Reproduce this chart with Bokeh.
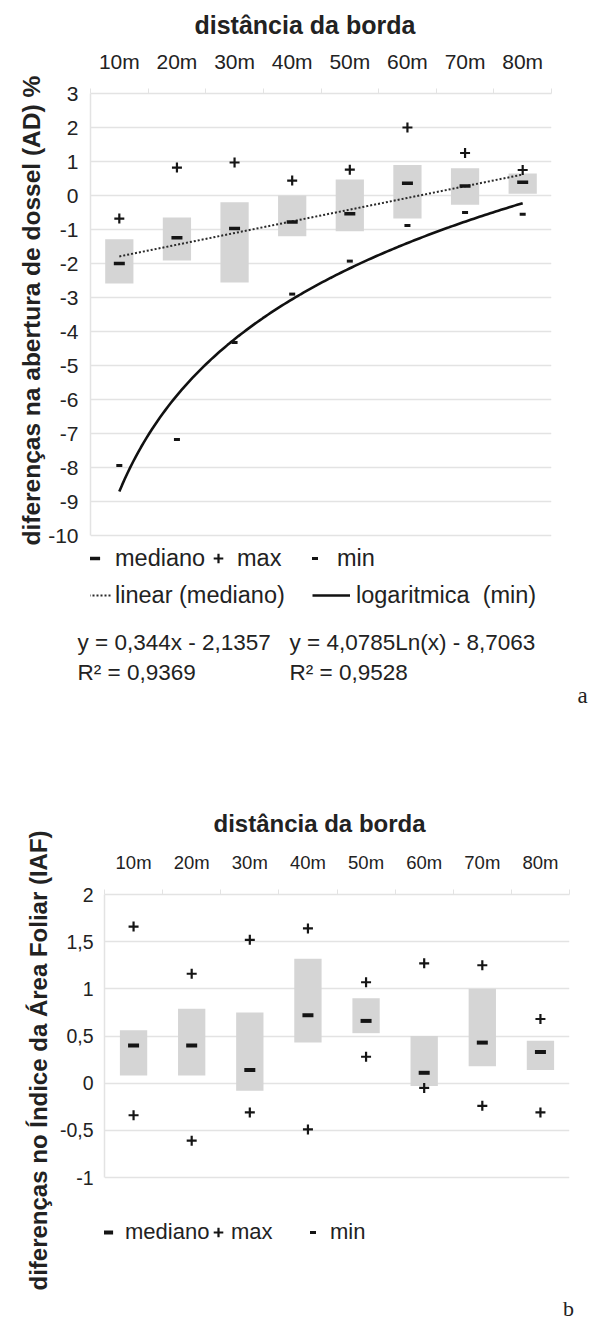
import numpy as np
from bokeh.plotting import figure
from bokeh.models import Range1d, FixedTicker, Label, Legend, LegendItem, Title
from bokeh.layouts import column
from bokeh.embed import file_html
from bokeh.resources import INLINE

# ---------------- data ----------------
categories = ["10m", "20m", "30m", "40m", "50m", "60m", "70m", "80m"]
positions = [1, 2, 3, 4, 5, 6, 7, 8]

# chart a: differences in canopy openness (AD) %
a_box_top = [-1.29, -0.65, -0.20, 0.00, 0.47, 0.90, 0.80, 0.65]
a_box_bottom = [-2.59, -1.91, -2.56, -1.20, -1.05, -0.68, -0.27, 0.05]
a_median = [-2.00, -1.24, -0.97, -0.78, -0.54, 0.36, 0.28, 0.39]
a_max = [-0.68, 0.82, 0.97, 0.44, 0.76, 2.00, 1.25, 0.75]
a_min = [-7.94, -7.18, -4.32, -2.90, -1.93, -0.88, -0.50, -0.55]
a_lin_slope, a_lin_intercept = 0.344, -2.1357
a_log_coef, a_log_intercept = 4.0785, -8.7063
a_eq_lin = "y = 0,344x - 2,1357"
a_r2_lin = "R² = 0,9369"
a_eq_log = "y = 4,0785Ln(x) - 8,7063"
a_r2_log = "R² = 0,9528"
a_y_ticks = [-10, -9, -8, -7, -6, -5, -4, -3, -2, -1, 0, 1, 2, 3]
a_y_labels = ["-10", "-9", "-8", "-7", "-6", "-5", "-4", "-3", "-2", "-1", "0", "1", "2", "3"]

# chart b: differences in leaf area index (IAF)
b_box_top = [0.56, 0.79, 0.75, 1.32, 0.90, 0.50, 1.00, 0.45]
b_box_bottom = [0.08, 0.08, -0.08, 0.43, 0.53, -0.03, 0.18, 0.14]
b_median = [0.40, 0.40, 0.14, 0.72, 0.66, 0.11, 0.43, 0.33]
b_max = [1.66, 1.16, 1.52, 1.64, 1.07, 1.27, 1.25, 0.68]
b_min = [-0.34, -0.61, -0.31, -0.49, 0.28, -0.05, -0.24, -0.31]
b_y_ticks = [-1, -0.5, 0, 0.5, 1, 1.5, 2]
b_y_labels = ["-1", "-0,5", "0", "0,5", "1", "1,5", "2"]

title_text = "distância da borda"
a_ylabel = "diferenças na abertura de dossel (AD) %"
b_ylabel = "diferenças no Índice da Área Foliar (IAF)"

# ---------------- style ----------------
FONT = "Liberation Sans"
SERIF = "Liberation Serif"
TXT = "#222222"
GRID = "#e3e3e3"
BOX = "#d5d5d5"
MARK = "#151515"
W = 592


def chart(fig_top, height, left, right, top, axis_bottom, frame_bottom, y_lo, y_hi,
          yticks, ylabels, cat_size, cat_standoff, tick_size, tick_standoff,
          title_size, title_offset, title_standoff,
          ylabel, ylabel_size, ylabel_bottom, ylabel_standoff):
    ppu = (axis_bottom - top) / (y_hi - y_lo)
    y_start = y_lo - (frame_bottom - axis_bottom) / ppu
    p = figure(width=W, height=height, x_range=Range1d(0.5, 8.5),
               y_range=Range1d(y_start, y_hi),
               output_backend="svg", toolbar_location=None, x_axis_location="above",
               min_border_left=left, min_border_right=W - right,
               min_border_top=top - fig_top,
               min_border_bottom=fig_top + height - frame_bottom)
    p.frame_align = False
    p.outline_line_color = None
    p.background_fill_color = "white"
    p.xgrid.visible = False
    p.ygrid.ticker = FixedTicker(ticks=yticks)
    p.ygrid.grid_line_color = GRID
    p.ygrid.grid_line_width = 1.5

    p.title.text = title_text
    p.title.align = "left"
    p.title.offset = title_offset
    p.title.text_font = FONT
    p.title.text_font_size = title_size
    p.title.text_font_style = "bold"
    p.title.text_color = TXT
    p.title.standoff = title_standoff

    xa = p.xaxis[0]
    xa.ticker = FixedTicker(ticks=positions, minor_ticks=[i + 0.5 for i in range(9)])
    xa.major_label_overrides = dict(zip(positions, categories))
    xa.major_tick_line_color = None
    xa.major_tick_out = 0
    xa.major_tick_in = 0
    xa.minor_tick_line_color = GRID
    xa.minor_tick_out = 5
    xa.minor_tick_in = 0
    xa.axis_line_color = GRID
    xa.axis_line_width = 1.5
    xa.major_label_standoff = cat_standoff
    xa.major_label_text_font = FONT
    xa.major_label_text_font_size = cat_size
    xa.major_label_text_color = TXT

    ya = p.yaxis[0]
    ya.ticker = FixedTicker(ticks=yticks, minor_ticks=[])
    ya.major_label_overrides = dict(zip(yticks, ylabels))
    ya.major_tick_line_color = None
    ya.major_tick_out = 0
    ya.major_tick_in = 0
    ya.bounds = (y_lo, y_hi)
    ya.axis_line_color = GRID
    ya.axis_line_width = 1.5
    ya.major_label_standoff = tick_standoff
    ya.major_label_text_font = FONT
    ya.major_label_text_font_size = tick_size
    ya.major_label_text_color = TXT

    p.add_layout(Title(text=ylabel, align="left", offset=frame_bottom - ylabel_bottom,
                       text_font=FONT, text_font_size=ylabel_size, text_font_style="bold",
                       text_color=TXT, standoff=ylabel_standoff), "left")
    return p


def text_fig(top, height):
    t = figure(width=W, height=height, x_range=Range1d(0, W), y_range=Range1d(top + height, top),
               output_backend="svg", toolbar_location=None,
               x_axis_type=None, y_axis_type=None,
               min_border_left=0, min_border_right=0, min_border_top=0, min_border_bottom=0)
    t.frame_align = False
    t.outline_line_color = None
    return t


def add_text(t, x, y, text, size, font=FONT, align="left"):
    t.add_layout(Label(x=x, y=y, text=text, text_font=font, text_font_size=size,
                       text_color=TXT, text_align=align, text_baseline="middle"))


def legend(p, renderer, label, loc, gw, standoff, size, gh=28):
    lg = Legend(items=[LegendItem(label=label, renderers=[renderer])], location=loc)
    lg.orientation = "horizontal"
    lg.border_line_color = None
    lg.background_fill_alpha = 0
    lg.padding = 0
    lg.margin = 0
    lg.spacing = 0
    lg.label_text_font = FONT
    lg.label_text_font_size = size
    lg.label_text_color = TXT
    lg.glyph_width = gw
    lg.glyph_height = gh
    lg.label_height = gh
    lg.label_standoff = standoff
    p.add_layout(lg)


# ================= chart a =================
A_LEFT, A_BOTTOM = 90, 612
pa = chart(fig_top=0, height=612, left=A_LEFT, right=551, top=93, axis_bottom=535,
           frame_bottom=A_BOTTOM, y_lo=-10, y_hi=3, yticks=a_y_ticks, ylabels=a_y_labels,
           cat_size="21px", cat_standoff=16, tick_size="21px", tick_standoff=12,
           title_size="25px", title_offset=104, title_standoff=15,
           ylabel=a_ylabel, ylabel_size="24.5px", ylabel_bottom=545, ylabel_standoff=2)

pa.vbar(x=positions, top=a_box_top, bottom=a_box_bottom, width=0.49,
        fill_color=BOX, line_color=None)

lin_x = [positions[0], positions[-1]]
lin_y = [a_lin_slope * v + a_lin_intercept for v in lin_x]
r_lin = pa.line(lin_x, lin_y, line_color="#2a2a2a", line_width=2, line_dash="2 2")

log_x = np.linspace(positions[0], positions[-1], 150)
log_y = a_log_coef * np.log(log_x) + a_log_intercept
r_log = pa.line(log_x, log_y, line_color="#111111", line_width=2.6)

ra_med = pa.scatter(positions, a_median, marker="dash", size=11, line_width=3.5, line_color=MARK)
ra_max = pa.scatter(positions, a_max, marker="cross", size=10, line_width=2.2, line_color=MARK)
ra_min = pa.scatter(positions, a_min, marker="dash", size=6, line_width=3, line_color=MARK)

# legend rows (locations: px from frame bottom-left)
legend(pa, ra_med, "mediano", (80 - A_LEFT, A_BOTTOM - 558 - 14), 28, 7, "23.5px")
legend(pa, ra_max, "max", (206 - A_LEFT, A_BOTTOM - 558 - 14), 24, 7, "23.5px")
legend(pa, ra_min, "min", (307 - A_LEFT, A_BOTTOM - 558 - 14), 15, 15, "23.5px")
legend(pa, r_lin, "linear (mediano)", (88 - A_LEFT, A_BOTTOM - 595 - 14), 24, 3, "23.5px")
legend(pa, r_log, "logaritmica  (min)", (312 - A_LEFT, A_BOTTOM - 595 - 14), 38, 6, "23.5px")

ta = text_fig(612, 156)
add_text(ta, 77, 642, a_eq_lin, "22.5px")
add_text(ta, 77, 672, a_r2_lin, "22.5px")
add_text(ta, 289, 642, a_eq_log, "22.5px")
add_text(ta, 289, 672, a_r2_log, "22.5px")
add_text(ta, 582, 695, "a", "23px", font=SERIF, align="center")

# ================= chart b =================
B_LEFT, B_BOTTOM = 104, 1294
pb = chart(fig_top=768, height=526, left=B_LEFT, right=569, top=894, axis_bottom=1177,
           frame_bottom=B_BOTTOM, y_lo=-1, y_hi=2, yticks=b_y_ticks, ylabels=b_y_labels,
           cat_size="18.5px", cat_standoff=17, tick_size="19.5px", tick_standoff=11,
           title_size="24px", title_offset=109, title_standoff=23,
           ylabel=b_ylabel, ylabel_size="24px", ylabel_bottom=1290, ylabel_standoff=10)

pb.vbar(x=positions, top=b_box_top, bottom=b_box_bottom, width=0.47,
        fill_color=BOX, line_color=None)
rb_med = pb.scatter(positions, b_median, marker="dash", size=11, line_width=4, line_color=MARK)
rb_max = pb.scatter(positions, b_max, marker="cross", size=10, line_width=2.2, line_color=MARK)
pb.scatter(positions, b_min, marker="cross", size=10, line_width=2.2, line_color=MARK)
rb_min_key = pb.scatter(x=[float("nan")], y=[float("nan")], marker="dash", size=6,
                        line_width=3, line_color=MARK)

legend(pb, rb_med, "mediano", (93 - B_LEFT, B_BOTTOM - 1232 - 14), 28, 4, "22px")
legend(pb, rb_max, "max", (206 - B_LEFT, B_BOTTOM - 1232 - 14), 24, 1, "22px")
legend(pb, rb_min_key, "min", (305 - B_LEFT, B_BOTTOM - 1232 - 14), 15, 10, "22px")

tb = text_fig(1294, 30)
add_text(tb, 568, 1308, "b", "22px", font=SERIF, align="center")

layout = column(pa, ta, pb, tb, spacing=0)
open("out.html", "w").write(file_html(layout, INLINE))
